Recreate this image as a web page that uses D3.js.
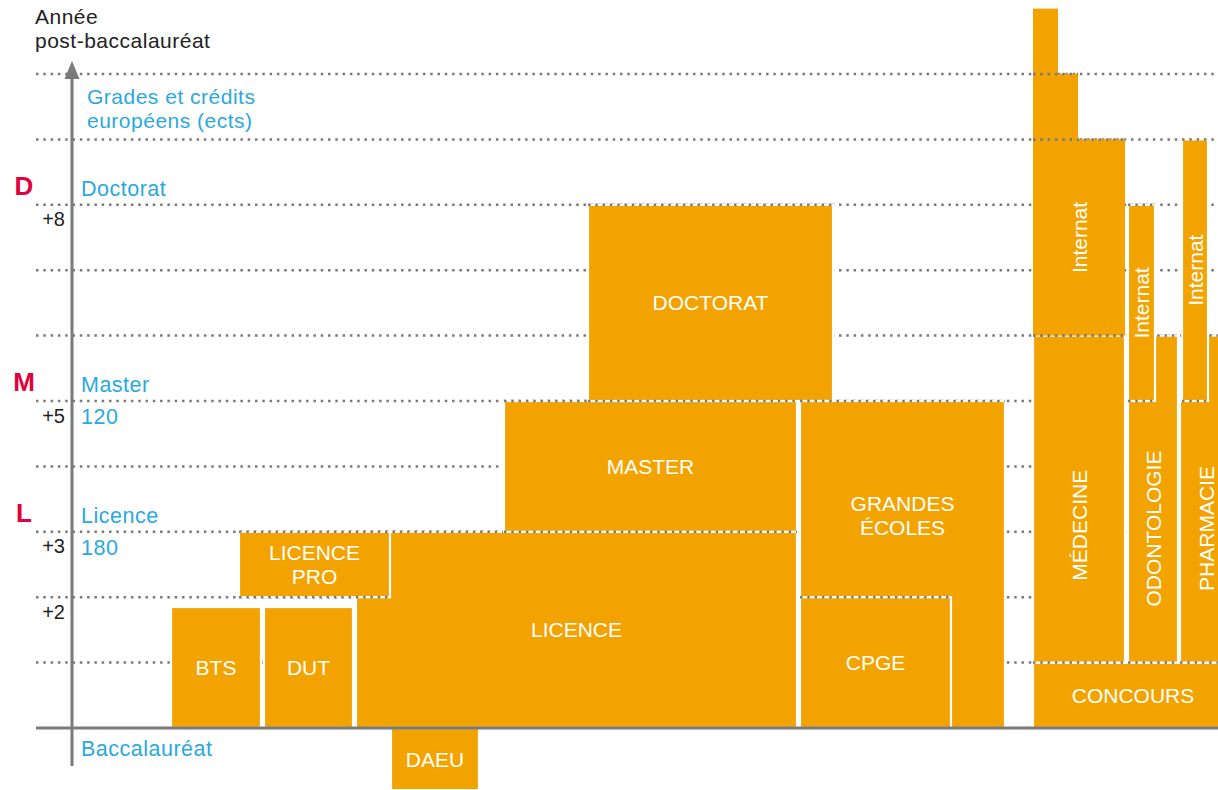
<!DOCTYPE html>
<html>
<head>
<meta charset="utf-8">
<script src="https://cdn.jsdelivr.net/npm/d3@7"></script>
<style>
  body { margin: 0; background: #fff; }
  text { font-family: "Liberation Sans", Arial, sans-serif; }
  .note { letter-spacing: 0.5px; }
</style>
</head>
<body>
<div class="chart"></div>
<script>
// années post-bac (lignes pointillées)
const gridYears = [1, 2, 3, 4, 5, 6, 7, 8, 9, 10];
const tickYears = [2, 3, 5, 8];

// grades LMD
const levelYears = [8, 5, 3];
const levelLetters = ['D', 'M', 'L'];
const levelNames = ['Doctorat', 'Master', 'Licence'];
const levelEcts = ['', '120', '180'];

// formations : colonnes (unités horizontales) et années de début / fin
const blockLabels = ['BTS', 'DUT', 'LICENCE', 'LICENCE|PRO', 'DAEU', 'MASTER', 'DOCTORAT',
  'GRANDES|ÉCOLES', 'CPGE', 'CONCOURS', 'MÉDECINE', 'Internat', '', '',
  'ODONTOLOGIE', 'Internat', 'PHARMACIE', 'Internat'];
const colStart = [17.1, 26.4, 35.6, 23.9, 39.1, 50.4, 58.8, 80.0, 80.0, 103.3, 103.3, 103.3, 103.3, 103.3, 112.8, 112.8, 118.0, 118.2];
const colEnd   = [26.1, 35.3, 79.7, 39.0, 47.9, 79.7, 83.3, 100.5, 95.1, 123.3, 112.5, 112.5, 107.8, 105.8, 117.8, 115.5, 123.3, 120.8];
const yearStart = [0, 0, 0, 2, -0.95, 3, 5, 0, 0, 0, 1, 6, 9, 10, 1, 5, 1, 5];
const yearEnd   = [1.85, 1.85, 3, 3, 0, 5, 8, 5, 2, 1, 6, 9, 10, 11, 6, 8, 6, 9];
const labelYear = [null, null, null, null, null, null, null, 3.25, null, null, 3.1, null, null, null, 3.05, null, 3.05, null];
const vertical  = [false, false, false, false, false, false, false, false, false, false, true, true, false, false, true, true, true, true];
const outlined  = [true, true, true, true, true, true, true, true, true, true, true, false, false, false, true, true, true, true];

const width = 1218;
const height = 790;
const orange = '#f3a300';
const blue = '#2aa9e0';
const red = '#e2003c';
const grey = '#7a7a7a';

const svg = d3.select('.chart')
    .append('svg')
    .attr('width', width)
    .attr('height', height);

const x = d3.scaleLinear().domain([0, 121.8]).range([0, width]);
const y = d3.scaleLinear().domain([0, 11]).range([728, 8.6]);

const blocks = blockLabels.map((label, i) => ({
    label: label,
    x0: colStart[i], x1: colEnd[i],
    y0: yearStart[i], y1: yearEnd[i],
    ly: labelYear[i] === null ? (yearStart[i] + yearEnd[i]) / 2 : labelYear[i],
    vertical: vertical[i],
    outlined: outlined[i]
}));

// grille
svg.append('g')
    .selectAll('line')
    .data(gridYears)
    .enter()
    .append('line')
    .attr('x1', 36)
    .attr('x2', width)
    .attr('y1', d => y(d))
    .attr('y2', d => y(d))
    .attr('stroke', grey)
    .attr('stroke-width', 2.5)
    .attr('stroke-dasharray', '2.5,4.8');

// blocs
const g = svg.append('g')
    .selectAll('g')
    .data(blocks)
    .enter()
    .append('g');

g.append('rect')
    .attr('x', d => x(d.x0))
    .attr('y', d => y(d.y1))
    .attr('width', d => x(d.x1) - x(d.x0))
    .attr('height', d => y(d.y0) - y(d.y1))
    .attr('fill', orange)
    .attr('stroke', d => d.outlined ? '#fff' : 'none')
    .attr('stroke-width', 2.2);

// pointillés sur les bords qui tombent sur une année
g.selectAll('line')
    .data(d => [d.y0, d.y1].filter(v => gridYears.includes(v)).map(v => ({x0: d.x0, x1: d.x1, v: v})))
    .enter()
    .append('line')
    .attr('x1', d => x(d.x0))
    .attr('x2', d => x(d.x1))
    .attr('y1', d => y(d.v))
    .attr('y2', d => y(d.v))
    .attr('stroke', grey)
    .attr('stroke-width', 2.5)
    .attr('stroke-dasharray', '2.5,4.8');

const labels = g.filter(d => d.label !== '')
    .append('text')
    .attr('transform', d => {
        const cx = x((d.x0 + d.x1) / 2);
        const cy = y(d.ly);
        return 'translate(' + cx + ',' + cy + ')' + (d.vertical ? ' rotate(-90)' : '');
    })
    .attr('text-anchor', 'middle')
    .attr('fill', '#fff')
    .attr('font-size', 21);

labels.selectAll('tspan')
    .data(d => {
        const lines = d.label.split('|');
        return lines.map((t, i) => ({t: t, dy: (i - (lines.length - 1) / 2) * 24.5}));
    })
    .enter()
    .append('tspan')
    .attr('x', 0)
    .attr('y', d => d.dy)
    .attr('dy', '0.36em')
    .text(d => d.t);

// ligne du bac
svg.append('line')
    .attr('x1', 36)
    .attr('x2', width)
    .attr('y1', y(0))
    .attr('y2', y(0))
    .attr('stroke', grey)
    .attr('stroke-width', 3);

// axe vertical
const yAxis = d3.axisLeft(y)
    .tickValues(tickYears)
    .tickFormat(d => '+' + d)
    .tickSize(0)
    .tickPadding(7);

const axisG = svg.append('g')
    .attr('transform', 'translate(72,0)')
    .call(yAxis);
axisG.select('.domain').remove();
axisG.selectAll('text')
    .attr('dy', 21)
    .attr('fill', '#222')
    .attr('font-size', 20)
    .attr('font-family', '"Liberation Sans", Arial, sans-serif');

svg.append('line')
    .attr('x1', 72)
    .attr('x2', 72)
    .attr('y1', 76)
    .attr('y2', 766)
    .attr('stroke', grey)
    .attr('stroke-width', 3);

svg.append('path')
    .attr('d', 'M72,61 L79.5,79 L64.5,79 Z')
    .attr('fill', grey);

svg.append('text')
    .attr('class', 'note')
    .attr('x', 35).attr('y', 24)
    .attr('fill', '#222').attr('font-size', 21)
    .text('Année');
svg.append('text')
    .attr('class', 'note')
    .attr('x', 35).attr('y', 48)
    .attr('fill', '#222').attr('font-size', 21)
    .text('post-baccalauréat');

svg.append('text')
    .attr('class', 'note')
    .attr('x', 87).attr('y', 104)
    .attr('fill', blue).attr('font-size', 21)
    .text('Grades et crédits');
svg.append('text')
    .attr('class', 'note')
    .attr('x', 87).attr('y', 128)
    .attr('fill', blue).attr('font-size', 21)
    .text('européens (ects)');

// niveaux LMD
const lv = svg.append('g')
    .selectAll('g')
    .data(levelYears.map((yr, i) => ({yr: yr, letter: levelLetters[i], name: levelNames[i], ects: levelEcts[i]})))
    .enter()
    .append('g');

lv.append('text')
    .attr('x', 24)
    .attr('y', d => y(d.yr) - 10)
    .attr('text-anchor', 'middle')
    .attr('fill', red)
    .attr('font-size', 26)
    .attr('font-weight', 'bold')
    .text(d => d.letter);

lv.append('text')
    .attr('class', 'note')
    .attr('x', 81)
    .attr('y', d => y(d.yr) - 9)
    .attr('fill', blue)
    .attr('font-size', 21.5)
    .text(d => d.name);

lv.append('text')
    .attr('class', 'note')
    .attr('x', 81)
    .attr('y', d => y(d.yr) + 23)
    .attr('fill', blue)
    .attr('font-size', 21.5)
    .text(d => d.ects);

svg.append('text')
    .attr('class', 'note')
    .attr('x', 81)
    .attr('y', y(0) + 28)
    .attr('fill', blue)
    .attr('font-size', 21.5)
    .text('Baccalauréat');
</script>
</body>
</html>
